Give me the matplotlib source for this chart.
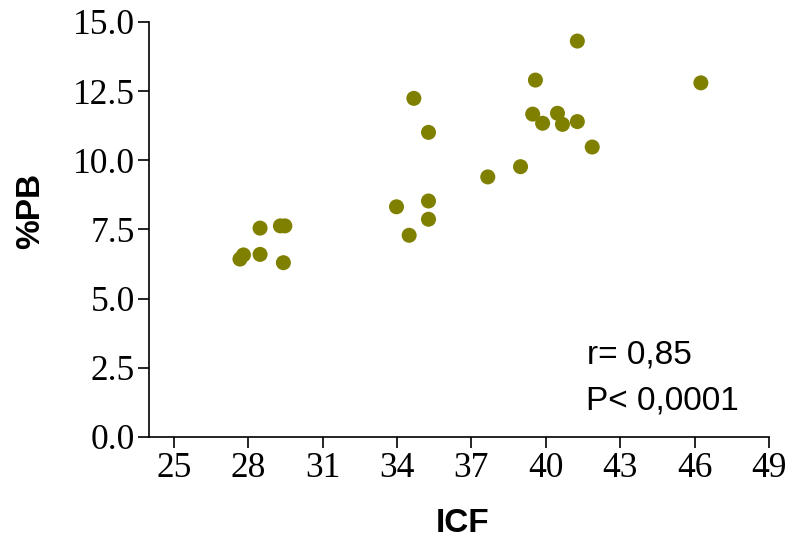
import matplotlib
matplotlib.use("Agg")
import matplotlib.pyplot as plt

# ICF vs %PB, one point per subject
icf = [27.67, 27.81, 28.48, 28.48, 29.30, 29.48, 29.42, 33.98, 34.49, 34.68,
       35.27, 35.27, 35.27, 37.66, 38.98, 39.47, 39.58, 39.87, 40.47, 40.67,
       41.27, 41.27, 41.87, 46.25]
pb = [6.43, 6.58, 6.60, 7.55, 7.63, 7.63, 6.30, 8.32, 7.29, 12.24,
      11.01, 8.53, 7.87, 9.40, 9.77, 11.67, 12.90, 11.34, 11.70, 11.30,
      11.40, 14.31, 10.48, 12.80]

X_TICKS = [25, 28, 31, 34, 37, 40, 43, 46, 49]
Y_TICKS = [0.0, 2.5, 5.0, 7.5, 10.0, 12.5, 15.0]

SERIF = ["Liberation Serif", "DejaVu Serif"]
SANS = ["Liberation Sans", "DejaVu Sans"]

fig = plt.figure(figsize=(7.88, 5.44), dpi=100)
ax = fig.add_axes([0.189, 0.1967, 0.787, 0.7629])

ax.scatter(icf, pb, s=117, color="#808000", edgecolors="none", zorder=3)

ax.set_xlim(24, 49)
ax.set_ylim(0, 15)
ax.set_xticks(X_TICKS)
ax.set_yticks(Y_TICKS)
ax.set_yticklabels([f"{v:.1f}" for v in Y_TICKS])

for side in ("top", "right"):
    ax.spines[side].set_visible(False)
for side in ("left", "bottom"):
    ax.spines[side].set_linewidth(1.2)
    ax.spines[side].set_color("black")

ax.tick_params(axis="both", direction="out", length=8, width=1.2, color="black")
ax.tick_params(axis="y", pad=2)
ax.tick_params(axis="x", pad=3)
for lbl in ax.get_xticklabels() + ax.get_yticklabels():
    lbl.set_fontfamily(SERIF)
    lbl.set_fontsize(25.5)

ax.set_xlabel("ICF", fontsize=24, fontweight="bold", family=SANS)
ax.set_ylabel("%PB", fontsize=24, fontweight="bold", family=SANS)
ax.xaxis.set_label_coords(0.505, -0.171)
ax.yaxis.set_label_coords(-0.165, 0.545)

ax.text(41.67, 2.67, "r= 0,85", fontsize=24, family=SANS, va="baseline")
ax.text(41.60, 0.98, "P< 0,0001", fontsize=24, family=SANS, va="baseline")

fig.savefig("out.png", dpi=100)
